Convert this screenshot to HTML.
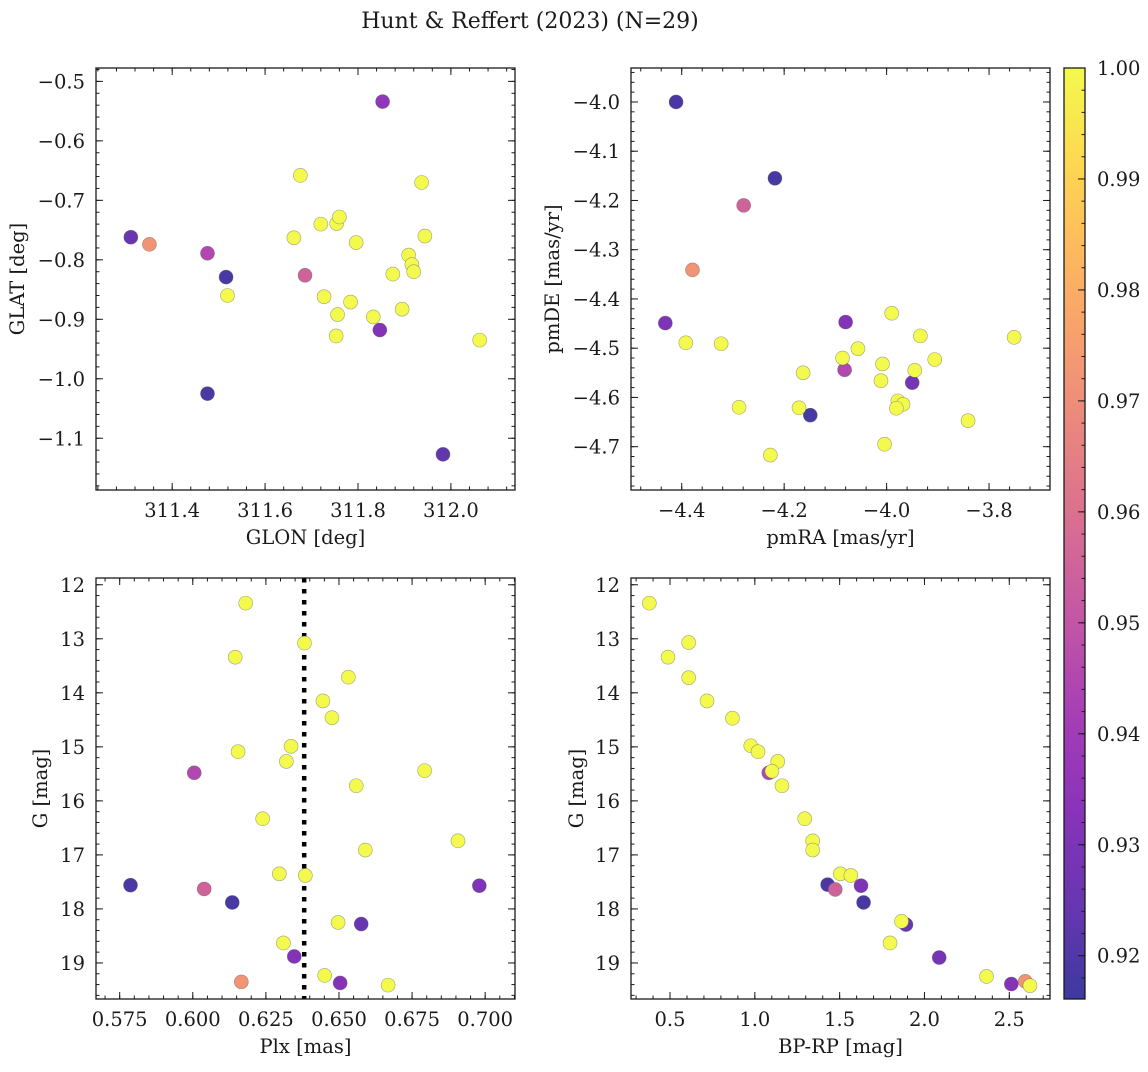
<!DOCTYPE html>
<html><head><meta charset="utf-8"><title>Hunt & Reffert (2023)</title>
<style>
html,body{margin:0;padding:0;background:#fff;}
svg text{font-family:"DejaVu Serif","Liberation Serif",serif;fill:#1a1a1a;}
</style></head>
<body>
<svg id="fig" xmlns="http://www.w3.org/2000/svg" width="1148" height="1067" viewBox="0 0 1148 1067">
<rect x="0" y="0" width="1148" height="1067" fill="#fff"/>
<text x="530" y="28" font-size="22" text-anchor="middle">Hunt &amp; Reffert (2023) (N=29)</text>
</svg>
<script>
// ---------- data ----------
const tlGlon = [311.853,311.676,311.937,311.311,311.351,311.476,311.516,311.519,311.686,311.662,311.720,311.754,311.760,311.796,311.944,311.909,311.916,311.920,311.875,311.727,311.784,311.756,311.833,311.895,311.753,311.847,311.476,311.983,312.062];
const tlGlat = [-0.534,-0.658,-0.670,-0.762,-0.774,-0.789,-0.829,-0.860,-0.826,-0.763,-0.740,-0.739,-0.728,-0.771,-0.760,-0.792,-0.808,-0.820,-0.824,-0.862,-0.871,-0.892,-0.896,-0.883,-0.928,-0.918,-1.025,-1.127,-0.935];
const tlProb = [0.935,1,1,0.925,0.972,0.945,0.918,1,0.955,1,1,1,1,1,1,1,1,1,1,1,1,1,1,1,1,0.932,0.919,0.923,1];

const trPmra = [-4.411,-4.218,-4.279,-4.379,-4.432,-4.392,-4.323,-4.080,-3.990,-3.934,-3.751,-4.056,-4.086,-4.008,-3.906,-4.082,-4.163,-3.945,-4.011,-3.950,-3.978,-3.968,-3.981,-4.288,-4.171,-4.149,-3.841,-4.004,-4.227];
const trPmde = [-4.000,-4.155,-4.210,-4.341,-4.449,-4.489,-4.491,-4.447,-4.429,-4.475,-4.478,-4.501,-4.520,-4.532,-4.523,-4.544,-4.550,-4.545,-4.566,-4.570,-4.607,-4.614,-4.622,-4.620,-4.621,-4.636,-4.647,-4.695,-4.717];
const trProb = [0.919,0.918,0.955,0.972,0.930,1,1,0.932,1,1,1,1,1,1,1,0.945,1,1,1,0.928,1,1,1,1,1,0.918,1,1,1];

const blPlx = [0.6181,0.6382,0.6145,0.6532,0.6445,0.6476,0.6336,0.6155,0.6320,0.6005,0.6793,0.6559,0.6239,0.6590,0.6907,0.6296,0.6385,0.5787,0.6039,0.6980,0.6135,0.6497,0.6576,0.6310,0.6347,0.6451,0.6166,0.6504,0.6668];
const blG = [12.34,13.08,13.34,13.71,14.15,14.46,14.99,15.09,15.27,15.48,15.44,15.72,16.33,16.91,16.74,17.35,17.38,17.56,17.63,17.57,17.88,18.25,18.28,18.63,18.88,19.23,19.35,19.37,19.41];
const blProb = [1,1,1,1,1,1,1,1,1,0.945,1,1,1,1,1,1,1,0.919,0.955,0.930,0.918,1,0.925,1,0.932,1,0.972,0.932,1];
const blRefPlx = [0.6381];

const brBprp = [0.378,0.610,0.488,0.610,0.718,0.868,0.976,1.019,1.135,1.082,1.101,1.160,1.294,1.341,1.341,1.504,1.566,1.429,1.474,1.626,1.641,1.891,1.865,1.797,2.087,2.366,2.512,2.594,2.622];
const brG = [12.34,13.07,13.34,13.72,14.15,14.47,14.98,15.09,15.27,15.48,15.45,15.72,16.33,16.74,16.91,17.35,17.38,17.55,17.64,17.57,17.88,18.29,18.23,18.63,18.90,19.25,19.39,19.34,19.42];
const brProb = [1,1,1,1,1,1,1,1,1,0.945,1,1,1,1,1,1,1,0.919,0.955,0.930,0.918,0.925,1,1,0.928,1,0.932,0.972,1];

const tlXTicks = [311.4,311.6,311.8,312.0];
const tlYTicks = [-0.5,-0.6,-0.7,-0.8,-0.9,-1.0,-1.1];
const trXTicks = [-4.4,-4.2,-4.0,-3.8];
const trYTicks = [-4.0,-4.1,-4.2,-4.3,-4.4,-4.5,-4.6,-4.7];
const blXTicks = [0.575,0.600,0.625,0.650,0.675,0.700];
const gTicks = [12,13,14,15,16,17,18,19];
const brXTicks = [0.5,1.0,1.5,2.0,2.5];
const cbTicks = [0.92,0.93,0.94,0.95,0.96,0.97,0.98,0.99,1.00];
const cbRange = [0.9161,1.0];

// ---------- helpers ----------
const NS = "http://www.w3.org/2000/svg";
const svg = document.getElementById('fig');
const FS = 19.5;
function mk(tag, attrs, parent){
  const e = document.createElementNS(NS, tag);
  for (const k in attrs) e.setAttribute(k, attrs[k]);
  (parent||svg).appendChild(e);
  return e;
}
function scale(lo,hi,p0,p1){ return v => p0 + (v-lo)/(hi-lo)*(p1-p0); }
const plasma = [[13,8,135],[65,4,157],[106,0,168],[143,13,164],[177,42,144],[204,71,120],[225,100,98],[242,132,75],[252,166,54],[252,206,37],[240,249,33]];
function cmap(t){
  t = Math.max(0, Math.min(1, t));
  const f = t*10, i = Math.min(9, Math.floor(f)), r = f - i;
  const a = plasma[i], b = plasma[i+1];
  const c = [0,1,2].map(k => a[k] + (b[k]-a[k])*r);
  return 'rgb(' + c.map(v => Math.round(v*0.8 + 255*0.2)).join(',') + ')';
}
function probColor(p){ return cmap((p - cbRange[0])/(cbRange[1]-cbRange[0])); }
function fmt(v, d){ const s = v.toFixed(d); return s.replace('-', '\u2212'); }

function panel(cfg){
  const g = mk('g', {});
  
  
  const {L,T,R,B} = cfg;
  const sx = scale(cfg.xlim[0], cfg.xlim[1], L, R);
  const sy = scale(cfg.ylim[0], cfg.ylim[1], T, B);
  const ticks = mk('g', {stroke:'#1a1a1a','stroke-width':1}, g);
  
  
  const xa = Math.min(cfg.xlim[0], cfg.xlim[1]), xb = Math.max(cfg.xlim[0], cfg.xlim[1]);
  for (let v = Math.ceil(xa/cfg.xMinor - 1e-6)*cfg.xMinor; v <= xb; v += cfg.xMinor){
    const x = sx(v);
    mk('line', {x1:x, y1:B, x2:x, y2:B-3.5}, ticks);
    mk('line', {x1:x, y1:T, x2:x, y2:T+3.5}, ticks);
  }
  const ya = Math.min(cfg.ylim[0], cfg.ylim[1]), yb = Math.max(cfg.ylim[0], cfg.ylim[1]);
  for (let v = Math.ceil(ya/cfg.yMinor - 1e-6)*cfg.yMinor; v <= yb; v += cfg.yMinor){
    const y = sy(v);
    mk('line', {x1:L, y1:y, x2:L+3.5, y2:y}, ticks);
    mk('line', {x1:R, y1:y, x2:R-3.5, y2:y}, ticks);
  }
  cfg.xTicks.forEach(v => {
    const x = sx(v);
    mk('line', {x1:x, y1:B, x2:x, y2:B-7}, ticks);
    mk('line', {x1:x, y1:T, x2:x, y2:T+7}, ticks);
    const t = mk('text', {x:x, y:B+27, 'font-size':FS, 'text-anchor':'middle'}, g);
    
    
    t.textContent = fmt(v, cfg.xDec);
  });
  cfg.yTicks.forEach(v => {
    const y = sy(v);
    mk('line', {x1:L, y1:y, x2:L+7, y2:y}, ticks);
    mk('line', {x1:R, y1:y, x2:R-7, y2:y}, ticks);
    const t = mk('text', {x:L-11, y:y+7, 'font-size':FS, 'text-anchor':'end'}, g);
    
    
    t.textContent = fmt(v, cfg.yDec);
  });
  if (cfg.vline){
    cfg.vline.forEach(v => {
      const ln = mk('line', {x1:sx(v), y1:T, x2:sx(v), y2:B, stroke:'#000','stroke-width':4.5,'stroke-dasharray':'4.5 6.5'}, g);
      
      
    });
  }
  const cl = mk('g', {}, g);
  const idx = cfg.px.map((_, i) => i).sort((a, b) => cfg.pp[a] - cfg.pp[b]);
  idx.forEach(i => {
    const c = mk('circle', {cx:sx(cfg.px[i]), cy:sy(cfg.py[i]), r:7, fill:probColor(cfg.pp[i]), stroke:'rgba(90,90,90,0.55)', 'stroke-width':0.6}, cl);
    
    
  });
  const fr = mk('rect', {x:L, y:T, width:R-L, height:B-T, fill:'none', stroke:'#1a1a1a', 'stroke-width':1.3}, g);
  
  
  const xl = mk('text', {x:(L+R)/2, y:B+54, 'font-size':FS, 'text-anchor':'middle'}, g);
  
  
  xl.textContent = cfg.xlabel;
  const yx = cfg.ylabelX, yy = (T+B)/2;
  const yl = mk('text', {x:yx, y:yy, 'font-size':FS, 'text-anchor':'middle', transform:'rotate(-90 '+yx+' '+yy+')'}, g);
  
  
  yl.textContent = cfg.ylabel;
}

panel({name:'glon-glat-panel', L:96, T:68, R:515, B:490, xlim:[311.236,312.138], ylim:[-0.4775,-1.187],
  xTicks:tlXTicks, yTicks:tlYTicks, xDec:1, yDec:1, xMinor:0.04, yMinor:0.02,
  px:tlGlon, py:tlGlat, pp:tlProb, xlabel:'GLON [deg]', ylabel:'GLAT [deg]', ylabelX:24});
panel({name:'proper-motion-panel', L:631, T:68, R:1050, B:490, xlim:[-4.499,-3.681], ylim:[-3.931,-4.788],
  xTicks:trXTicks, yTicks:trYTicks, xDec:1, yDec:1, xMinor:0.04, yMinor:0.02,
  px:trPmra, py:trPmde, pp:trProb, xlabel:'pmRA [mas/yr]', ylabel:'pmDE [mas/yr]', ylabelX:559});
panel({name:'parallax-mag-panel', L:96, T:578, R:515, B:999, xlim:[0.5669,0.7102], ylim:[11.875,19.667],
  xTicks:blXTicks, yTicks:gTicks, xDec:3, yDec:0, xMinor:0.005, yMinor:0.2,
  px:blPlx, py:blG, pp:blProb, vline:blRefPlx, xlabel:'Plx [mas]', ylabel:'G [mag]', ylabelX:47});
panel({name:'cmd-panel', L:631, T:578, R:1050, B:999, xlim:[0.270,2.740], ylim:[11.875,19.667],
  xTicks:brXTicks, yTicks:gTicks, xDec:1, yDec:0, xMinor:0.1, yMinor:0.2,
  px:brBprp, py:brG, pp:brProb, xlabel:'BP-RP [mag]', ylabel:'G [mag]', ylabelX:583});

// ---------- colorbar ----------
(function(){
  const L = 1064, R = 1085, T = 68, B = 999;
  const g = mk('g', {});
  
  
  const defs = mk('defs', {}, g);
  const grad = mk('linearGradient', {id:'cbgrad', x1:0, y1:1, x2:0, y2:0}, defs);
  for (let k = 0; k <= 20; k++){
    mk('stop', {offset:(k/20), 'stop-color':cmap(k/20)}, grad);
  }
  const bar = mk('rect', {x:L, y:T, width:R-L, height:B-T, fill:'url(#cbgrad)', stroke:'#1a1a1a', 'stroke-width':1.3}, g);
  
  
  const sy = scale(cbRange[0], cbRange[1], B, T);
  for (let v = Math.ceil(cbRange[0]/0.002 - 1e-6)*0.002; v <= cbRange[1] + 1e-9; v += 0.002){
    mk('line', {x1:R, y1:sy(v), x2:R-3.5, y2:sy(v), stroke:'#1a1a1a', 'stroke-width':1}, g);
  }
  cbTicks.forEach(v => {
    const y = sy(v);
    mk('line', {x1:R, y1:y, x2:R-7, y2:y, stroke:'#1a1a1a', 'stroke-width':1}, g);
    const t = mk('text', {x:R+12, y:y+7, 'font-size':FS}, g);
    
    
    t.textContent = v.toFixed(2);
  });
})();
</script>
</body></html>
